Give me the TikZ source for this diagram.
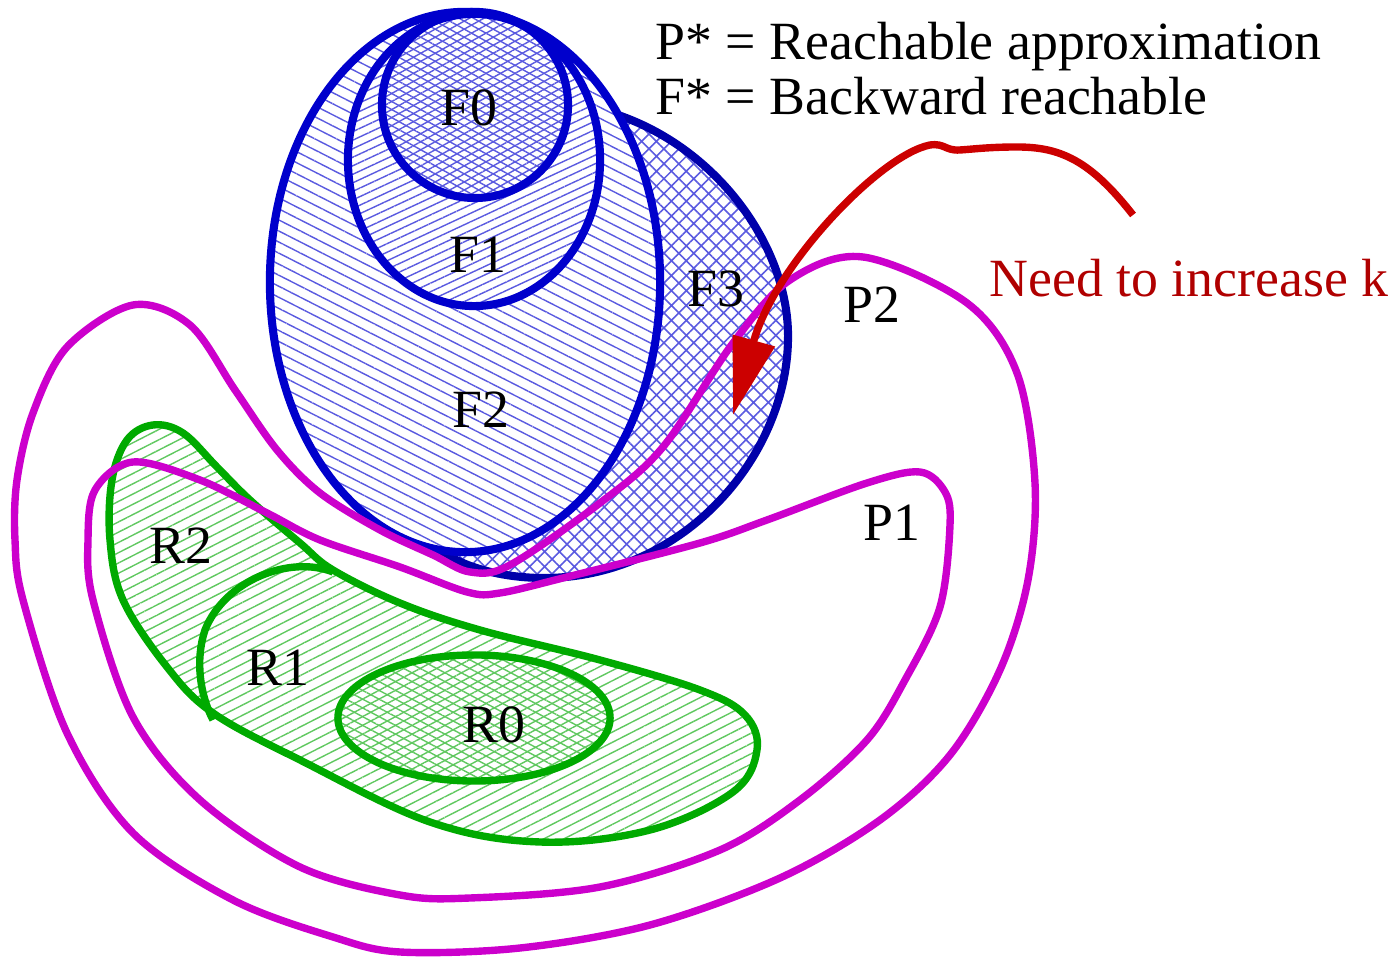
\documentclass[tikz,border=0pt]{standalone}
\usepackage{fontspec}
\setmainfont{Liberation Serif}
\usetikzlibrary{arrows.meta,patterns.meta,positioning}
\definecolor{SetBlue}{HTML}{0000CC}
\definecolor{EdgeBlue}{HTML}{0000AA}
\definecolor{HatchBlue}{HTML}{5A5AE0}
\definecolor{SetGreen}{HTML}{00AA00}
\definecolor{HatchGreen}{HTML}{60C860}
\definecolor{ApproxMagenta}{HTML}{CC00CC}
\definecolor{ArrowRed}{HTML}{CC0000}
\definecolor{NoteRed}{HTML}{B00000}

\begin{document}
\begin{tikzpicture}[
    x=0.01cm, y=-0.01cm,
    font=\fontsize{15.3}{15.3}\selectfont,
    setlabel/.style={inner sep=0pt},
    legend/.style={inner sep=0pt, anchor=base west},
    blueedge/.style={draw=SetBlue, line width=2.3pt},
    greenedge/.style={draw=SetGreen, line width=2.1pt},
    approx/.style={draw=ApproxMagenta, line width=2.1pt},
    hatchlines/.style n args={3}{
      pattern={Lines[angle=#1, distance=#2, line width=0.4pt]},
      pattern color=#3
    },
    diamonds/.style n args={3}{
      hatchlines={#1}{#2}{#3},
      postaction={hatchlines={-#1}{#2}{#3}}
    },
    kArrow/.style={draw=ArrowRed, line width=2.1pt,
      -{Triangle[length=22pt, width=12pt]}}
  ]
    \useasboundingbox (0,0) rectangle (1397,962);

    % backward reachable sets
    \fill[pattern={Hatch[angle=45, distance=3pt, line width=0.45pt]}, pattern color=HatchBlue]
      (618,115) .. controls (720,150) and (790,250) .. (788,340)
      .. controls (786,460) and (680,580) .. (540,578)
      .. controls (490,577) and (455,562) .. (440,550) -- (465,400) -- cycle;
    \path[preaction={fill=white}, hatchlines={-27}{2.8pt}{HatchBlue}]
      (465,282) ellipse [x radius=1.95cm, y radius=2.70cm];
    \path[preaction={fill=white}, hatchlines={25}{2.2pt}{HatchBlue}]
      (474,160) ellipse [x radius=1.26cm, y radius=1.46cm];
    \path[preaction={fill=white}, diamonds={29}{2pt}{HatchBlue}]
      (475,105) circle [radius=0.93cm];

    % forward reachable sets
    \path[hatchlines={27}{2.6pt}{HatchGreen}] plot[smooth cycle, tension=0.6] coordinates {
      (153,425) (183,433) (217,467) (250,500) (300,543) (333,570) (400,603)
      (480,630) (600,660) (700,690) (745,715) (757,750) (733,792) (650,830)
      (540,842) (430,822) (300,760) (213,713) (167,667) (123,600) (110,540)
      (112,480) (127,440)};
    \path[preaction={fill=white}, diamonds={28}{2.2pt}{HatchGreen}]
      (474,718) ellipse [x radius=1.36cm, y radius=0.63cm];

    % outlines
    \draw[blueedge, draw=EdgeBlue]
      (618,115) .. controls (720,150) and (790,250) .. (788,340)
      .. controls (786,460) and (680,580) .. (540,578)
      .. controls (490,577) and (455,562) .. (440,550);
    \draw[blueedge] (465,282) ellipse [x radius=1.95cm, y radius=2.70cm];
    \draw[blueedge] (474,160) ellipse [x radius=1.26cm, y radius=1.46cm];
    \draw[blueedge] (475,105) circle [radius=0.93cm];

    \draw[greenedge] plot[smooth cycle, tension=0.6] coordinates {
      (153,425) (183,433) (217,467) (250,500) (300,543) (333,570) (400,603)
      (480,630) (600,660) (700,690) (745,715) (757,750) (733,792) (650,830)
      (540,842) (430,822) (300,760) (213,713) (167,667) (123,600) (110,540)
      (112,480) (127,440)};
    \draw[greenedge] (333,572) .. controls (290,555) and (225,580) .. (205,630)
      .. controls (195,660) and (200,695) .. (213,720);
    \draw[greenedge] (474,718) ellipse [x radius=1.36cm, y radius=0.63cm];

    % reachable approximations
    \draw[approx] plot[smooth cycle, tension=0.55] coordinates {
      (133,462) (200,480) (267,513) (320,540) (400,567) (467,592) (500,593)
      (567,577) (700,543) (767,520) (867,483) (920,472) (945,492) (950,525)
      (940,607) (905,680) (867,740) (800,800) (720,850) (600,887) (470,898)
      (400,895) (300,867) (200,800) (133,717) (93,600) (88,540) (95,490)};
    \draw[approx] plot[smooth cycle, tension=0.55] coordinates {
      (133,305) (190,325) (235,390) (277,450) (320,493) (380,530) (433,555)
      (470,572) (510,565) (600,503) (663,447) (733,343) (790,280) (863,257)
      (967,303) (1017,373) (1035,483) (1028,580) (1000,670) (950,755)
      (880,820) (780,878) (650,925) (520,948) (400,952) (333,937) (233,900)
      (133,833) (67,733) (23,600) (15,540) (17,480) (33,413) (67,347)};

    % increase k
    \coordinate (kStart) at (1133,215);
    \coordinate (kTip) at (733,415);
    \draw[kArrow] (kStart) .. controls (1090,160) and (1060,147) .. (1017,147)
      .. controls (990,147) and (975,149) .. (960,150)
      .. controls (945,151) and (945,143) .. (930,145)
      .. controls (880,155) and (775,265) .. (kTip);

    % labels
    \node[setlabel] (labF0) at (469,108) {F0};
    \node[setlabel] (labF1) at (478,255) {F1};
    \node[setlabel] (labF2) at (481,410) {F2};
    \node[setlabel] (labF3) at (716,289) {F3};
    \node[setlabel] (labP2) at (872,305) {P2};
    \node[setlabel] (labP1) at (892,523) {P1};
    \node[setlabel] (labR2) at (181,546) {R2};
    \node[setlabel] (labR1) at (278,668) {R1};
    \node[setlabel] (labR0) at (494,725) {R0};
    \node[setlabel, text=NoteRed] (labK) at (1189,278) {Need to increase k};
    \node[legend] (legendP) at (655,60) {P* = Reachable approximation};
    \node[legend] (legendF) at (655,115) {F* = Backward reachable};
  \end{tikzpicture}
\end{document}
